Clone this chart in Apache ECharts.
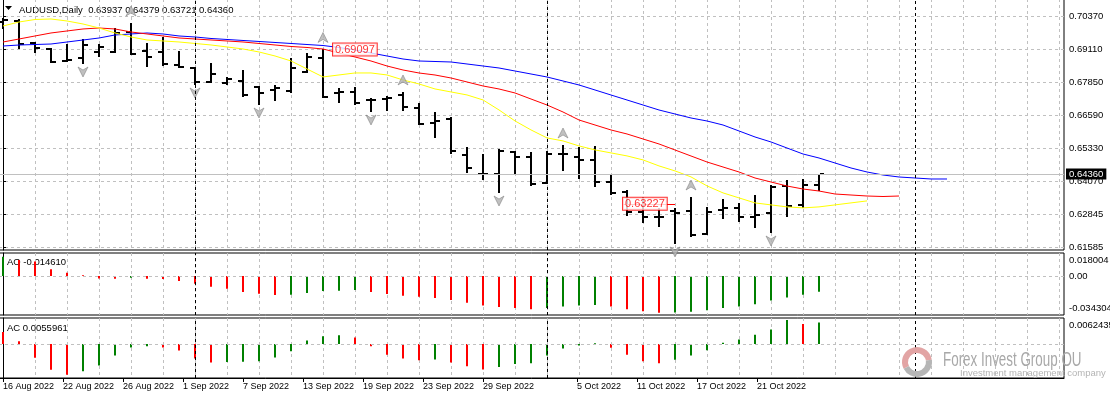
<!DOCTYPE html>
<html lang="en">
<head>
  <meta charset="UTF-8">
  <title>AUDUSD Daily</title>
  <script src="https://cdn.jsdelivr.net/npm/echarts@6/dist/echarts.min.js"></script>
  <style>
    html, body { margin: 0; padding: 0; background: #fff; }
    #chart { width: 1110px; height: 398px; }
  </style>
</head>
<body>
  <div id="chart"></div>
<script>
  const FONT = '"Liberation Sans", Arial, sans-serif'

  // daily bars, 16 Aug 2022 .. 26 Oct 2022 (bar index 0..51)
  const opens = [0.70142, 0.70180, 0.69344, 0.69115, 0.68659, 0.68773, 0.69001, 0.69001, 0.69762, 0.69039,
    0.69001, 0.68507, 0.68393, 0.67861, 0.67823, 0.67899, 0.67671, 0.67557, 0.67519, 0.68241,
    0.68773, 0.67443, 0.67481, 0.67176, 0.67214, 0.67366, 0.66872, 0.66302, 0.66454, 0.65085,
    0.64363, 0.64363, 0.65199, 0.65009, 0.64020, 0.65123, 0.65009, 0.64895, 0.64058, 0.63678,
    0.62918, 0.62728, 0.62956, 0.62956, 0.62082, 0.62994, 0.63070, 0.62728, 0.62880, 0.63906,
    0.63184, 0.63937]
  const highs = [0.70294, 0.70256, 0.69382, 0.69153, 0.69306, 0.69496, 0.69306, 0.69914, 0.70104, 0.69344,
    0.69572, 0.69039, 0.68431, 0.68583, 0.68051, 0.68317, 0.67690, 0.67747, 0.68773, 0.68963,
    0.69097, 0.67633, 0.67671, 0.67252, 0.67328, 0.67481, 0.67062, 0.66720, 0.66530, 0.65389,
    0.65123, 0.65313, 0.65237, 0.65199, 0.65237, 0.65465, 0.65389, 0.65427, 0.64325, 0.63754,
    0.63488, 0.63070, 0.63070, 0.63488, 0.63108, 0.63412, 0.63260, 0.63564, 0.63944, 0.64135,
    0.64173, 0.64379]
  const lows = [0.69876, 0.69115, 0.68963, 0.68583, 0.68621, 0.68545, 0.68811, 0.68963, 0.68887, 0.68431,
    0.68469, 0.68393, 0.67747, 0.67823, 0.67760, 0.67290, 0.66986, 0.67138, 0.67443, 0.68203,
    0.67252, 0.67062, 0.66986, 0.66720, 0.66758, 0.66758, 0.66226, 0.65732, 0.65123, 0.64401,
    0.64135, 0.63640, 0.64325, 0.63906, 0.63982, 0.64477, 0.64173, 0.63868, 0.63564, 0.62766,
    0.62500, 0.62348, 0.61703, 0.61968, 0.62044, 0.62652, 0.62538, 0.62310, 0.62120, 0.62728,
    0.63070, 0.63721]
  const closes = [0.70218, 0.69306, 0.69153, 0.68621, 0.68697, 0.69268, 0.69192, 0.69724, 0.68925, 0.68811,
    0.68545, 0.68431, 0.67861, 0.68165, 0.67975, 0.67366, 0.67443, 0.67633, 0.68393, 0.68811,
    0.67290, 0.67481, 0.67062, 0.67160, 0.67252, 0.66910, 0.66264, 0.66378, 0.65237, 0.64591,
    0.64363, 0.65237, 0.65009, 0.63982, 0.65123, 0.65110, 0.64895, 0.64058, 0.63640, 0.62918,
    0.62728, 0.62710, 0.62880, 0.62044, 0.62918, 0.63070, 0.62728, 0.62804, 0.63868, 0.63146,
    0.63944, 0.64360]

  // alligator lines (shifted forward past the last bar)
  const jaw = [0.69229, 0.69267, 0.69286, 0.69305, 0.69381, 0.69457, 0.69533, 0.69648, 0.69686, 0.69724,
    0.69686, 0.69610, 0.69572, 0.69515, 0.69477, 0.69439, 0.69401, 0.69363, 0.69325, 0.69286,
    0.69248, 0.69172, 0.69077, 0.68963, 0.68849, 0.68735, 0.68659, 0.68640, 0.68621, 0.68545,
    0.68469, 0.68393, 0.68279, 0.68165, 0.68051, 0.67899, 0.67747, 0.67557, 0.67366, 0.67176,
    0.66986, 0.66796, 0.66644, 0.66492, 0.66378, 0.66226, 0.65998, 0.65770, 0.65580, 0.65351,
    0.65123, 0.64971, 0.64781, 0.64591, 0.64439, 0.64325, 0.64249, 0.64211, 0.64173, 0.64173]
  const teeth = [0.69381, 0.69495, 0.69610, 0.69724, 0.69800, 0.69876, 0.69914, 0.69876, 0.69762, 0.69686,
    0.69610, 0.69534, 0.69496, 0.69458, 0.69420, 0.69382, 0.69325, 0.69268, 0.69211, 0.69173,
    0.69115, 0.68963, 0.68811, 0.68659, 0.68469, 0.68317, 0.68203, 0.68127, 0.68013, 0.67861,
    0.67709, 0.67595, 0.67443, 0.67214, 0.66986, 0.66720, 0.66416, 0.66226, 0.66036, 0.65884,
    0.65694, 0.65504, 0.65275, 0.65047, 0.64819, 0.64629, 0.64439, 0.64211, 0.64058, 0.63906,
    0.63792, 0.63716, 0.63602, 0.63564, 0.63526, 0.63507, 0.63526]
  const lips = [0.69990, 0.70142, 0.70237, 0.70256, 0.70180, 0.70066, 0.69914, 0.69724, 0.69572, 0.69458,
    0.69420, 0.69382, 0.69325, 0.69268, 0.69192, 0.69116, 0.69002, 0.68850, 0.68660, 0.68356,
    0.68052, 0.68128, 0.68204, 0.68204, 0.68128, 0.67938, 0.67786, 0.67596, 0.67482, 0.67368,
    0.67178, 0.66798, 0.66380, 0.66038, 0.65734, 0.65620, 0.65430, 0.65278, 0.65164, 0.65050,
    0.64898, 0.64670, 0.64480, 0.64252, 0.63910, 0.63644, 0.63454, 0.63264, 0.63188, 0.63112,
    0.63074, 0.63112, 0.63188, 0.63264, 0.63340]

  const fractalUp = [8, 20, 25, 35, 43]
  const fractalDown = [5, 12, 16, 23, 31, 42, 48]

  // awesome oscillator / accelerator (value before the first bar sets the first colour)
  const aoBefore = 0.0172
  const aoValues = [0.018004, 0.0150, 0.0135, 0.0062, 0.0031, 0.0006, -0.0023, -0.0026, -0.0016, -0.0025,
    -0.0027, -0.0047, -0.0072, -0.0100, -0.0118, -0.0149, -0.0165, -0.0177, -0.0175, -0.0159,
    -0.0140, -0.0138, -0.0131, -0.0149, -0.0168, -0.0185, -0.0195, -0.0205, -0.0225, -0.0250,
    -0.0275, -0.0290, -0.0300, -0.0310, -0.0300, -0.0285, -0.0275, -0.0270, -0.0285, -0.0310,
    -0.0330, -0.034304, -0.0340, -0.0335, -0.0320, -0.0300, -0.0285, -0.0265, -0.0230, -0.0200,
    -0.0175, -0.014610]
  const acBefore = 0.0040
  const acValues = [0.0031, 0.0007, -0.0036, -0.0067, -0.0080, -0.0071, -0.0056, -0.0030, -0.0009, -0.0006,
    -0.0009, -0.0017, -0.0038, -0.0048, -0.0047, -0.0046, -0.0045, -0.0035, -0.0019, 0.0009,
    0.0020, 0.0023, 0.0017, -0.0006, -0.0028, -0.0038, -0.0042, -0.0040, -0.0048, -0.0058,
    -0.0066, -0.0060, -0.0052, -0.0050, -0.0030, -0.0012, -0.0004, 0.0002, -0.0010, -0.0028,
    -0.0045, -0.0050, -0.0041, -0.0030, -0.0016, 0.0003, 0.0012, 0.0024, 0.0038, 0.0062435,
    0.0052, 0.0055961]

  const priceTicks = [0.70370, 0.69110, 0.67850, 0.66590, 0.65330, 0.64070, 0.62845, 0.61585]
  const aoTicks = [0.018004, 0, -0.034304]
  const aoTickText = ['0.018004', '0.00', '-0.034304']
  const acTicks = [0.0062435]
  const acTickText = ['0.0062435']
  const dateLabels = ['16 Aug 2022', '22 Aug 2022', '26 Aug 2022', '1 Sep 2022', '7 Sep 2022', '13 Sep 2022',
    '19 Sep 2022', '23 Sep 2022', '29 Sep 2022', '5 Oct 2022', '11 Oct 2022', '17 Oct 2022', '21 Oct 2022']
  const datePos = [0, 3.75, 7.5, 11.25, 15, 18.75, 22.5, 26.25, 30, 35.875, 39.625, 43.375, 47.125]
  const separators = [12, 34, 57]
  const lastPrice = 0.64360
  const priceTags = [[20.625, 0.69097], [38.75, 0.63227]]
  const tagLineEnd = 42

  // 16 px per bar, bar 0 sits at x = 3
  const X_MIN = -0.25, X_MAX = 66.3125
  const gridX = []
  for (let i = 0; i <= 66; i += 2) gridX.push(i)

  const dash = { color: '#c0c0c0', type: [3, 3], width: 1 }
  const sepLines = separators.map(v => ({ xAxis: v, lineStyle: { color: '#000', type: [3, 3], width: 1 } }))

  function gridAxis(gi) {
    return {
      type: 'value', gridIndex: gi, min: X_MIN, max: X_MAX, position: 'top',
      axisLine: { show: false }, axisLabel: { show: false },
      axisTick: { show: false, customValues: gridX },
      splitLine: { show: true, lineStyle: dash }
    }
  }

  const upColor = '#008000', downColor = '#ff0000'
  const oscData = (vals, before) => vals.map((v, i) => ({
    value: [i, v],
    itemStyle: { color: v > (i ? vals[i - 1] : before) ? upColor : downColor }
  }))

  const upArrow = 'path://M5,0 L10,10 L5,7 L0,10 Z'
  const downArrow = 'path://M0,0 L5,3 L10,0 L5,10 Z'

  let myChart = echarts.init(document.getElementById('chart'))
  let option = {
    animation: false,
    backgroundColor: '#fff',
    textStyle: { fontFamily: FONT },
    grid: [
      { left: -1, right: 46, top: -1, height: 251, show: true, borderColor: '#000', borderWidth: 1, outerBoundsMode: 'none' },
      { left: -1, right: 46, top: 253, height: 62, show: true, borderColor: '#000', borderWidth: 1, outerBoundsMode: 'none' },
      { left: -1, right: 46, top: 318, height: 60, show: true, borderColor: '#000', borderWidth: 1, outerBoundsMode: 'none' }
    ],
    xAxis: [
      gridAxis(0),
      gridAxis(1),
      gridAxis(2),
      {
        type: 'value', gridIndex: 2, min: X_MIN, max: X_MAX, position: 'bottom',
        axisLine: { show: true, lineStyle: { color: '#000', width: 1 } },
        axisTick: { show: true, customValues: datePos, length: 4, lineStyle: { color: '#000' } },
        axisLabel: {
          show: true, customValues: datePos, align: 'left', margin: 4,
          fontSize: 9, color: '#000', fontFamily: FONT,
          formatter: v => dateLabels[datePos.findIndex(p => Math.abs(p - v) < 1e-6)] || ''
        },
        splitLine: { show: false }
      }
    ],
    yAxis: [
      {
        type: 'value', gridIndex: 0, position: 'right', min: 0.61473, max: 0.71016,
        axisLine: { show: true, lineStyle: { color: '#000' } },
        axisTick: { show: true, customValues: priceTicks, length: 3, lineStyle: { color: '#000' } },
        axisLabel: { customValues: priceTicks, formatter: v => v.toFixed(5), margin: 5, fontSize: 9.5, color: '#000', fontFamily: FONT },
        splitLine: { show: true, lineStyle: dash }
      },
      {
        type: 'value', gridIndex: 1, position: 'right', min: -0.03643, max: 0.02148,
        axisLine: { show: true, lineStyle: { color: '#000' } },
        axisTick: { show: false, customValues: aoTicks },
        splitLine: { show: false },
        axisLabel: {
          customValues: aoTicks, margin: 5, fontSize: 9.5, color: '#000', fontFamily: FONT,
          formatter: v => {
            const k = aoTicks.findIndex(t => Math.abs(t - v) < 1e-9)
            if (k === 0) return '{top|' + aoTickText[k] + '}'
            if (k === 2) return '{bot|' + aoTickText[k] + '}'
            return aoTickText[k]
          },
          rich: {
            top: { fontSize: 9.5, color: '#000', fontFamily: FONT, padding: [7, 0, 0, 0] },
            bot: { fontSize: 9.5, color: '#000', fontFamily: FONT, padding: [0, 0, 9, 0] }
          }
        }
      },
      {
        type: 'value', gridIndex: 2, position: 'right', min: -0.00884, max: 0.00676,
        axisLine: { show: true, lineStyle: { color: '#000' } },
        axisTick: { show: false, customValues: acTicks },
        splitLine: { show: false },
        axisLabel: {
          customValues: acTicks, margin: 5, fontSize: 9.5, color: '#000', fontFamily: FONT,
          formatter: v => '{top|' + acTickText[0] + '}',
          rich: { top: { fontSize: 9.5, color: '#000', fontFamily: FONT, padding: [11, 0, 0, 0] } }
        }
      }
    ],
    series: [
      {
        type: 'custom', xAxisIndex: 0, yAxisIndex: 0, z: 2,
        data: opens.map((o, i) => [i, o, highs[i], lows[i], closes[i]]),
        encode: { x: 0, y: [1, 2, 3, 4] },
        renderItem: (params, api) => {
          let x = api.value(0)
          let top = api.coord([x, api.value(2)])
          let bot = api.coord([x, api.value(3)])
          let o = api.coord([x, api.value(1)])
          let c = api.coord([x, api.value(4)])
          let px = Math.round(top[0])
          return {
            type: 'group',
            children: [
              { type: 'rect', shape: { x: px - 1, y: Math.round(top[1]), width: 2, height: Math.max(2, Math.round(bot[1] - top[1])) }, style: { fill: '#000' } },
              { type: 'rect', shape: { x: px - 5, y: Math.round(o[1]) - 1, width: 4, height: 2 }, style: { fill: '#000' } },
              { type: 'rect', shape: { x: px + 1, y: Math.round(c[1]) - 1, width: 4, height: 2 }, style: { fill: '#000' } }
            ]
          }
        }
      },
      {
        type: 'line', xAxisIndex: 0, yAxisIndex: 0, z: 3, symbol: 'none',
        data: jaw.map((v, i) => [i, v]), lineStyle: { color: '#0000ff', width: 1 },
        markLine: {
          silent: true, precision: 5, symbol: ['none', 'none'], label: { show: false },
          data: sepLines.concat([{ yAxis: lastPrice, lineStyle: { color: '#c0c0c0', type: 'solid', width: 1 },
            label: { show: true, position: 'end', distance: 2, formatter: lastPrice.toFixed(5), color: '#fff',
              backgroundColor: '#000', padding: [1, 3, 0, 3], fontSize: 9.5, fontFamily: FONT } }])
        }
      },
      { type: 'line', xAxisIndex: 0, yAxisIndex: 0, z: 3, symbol: 'none', data: teeth.map((v, i) => [i, v]), lineStyle: { color: '#ff0000', width: 1 } },
      { type: 'line', xAxisIndex: 0, yAxisIndex: 0, z: 3, symbol: 'none', data: lips.map((v, i) => [i, v]), lineStyle: { color: '#ffff00', width: 1 } },
      {
        type: 'scatter', xAxisIndex: 0, yAxisIndex: 0, z: 4, symbol: upArrow, symbolSize: [10, 10], symbolOffset: [0, -12],
        data: fractalUp.map(i => [i, highs[i]]),
        itemStyle: { color: '#b0b0b0', borderColor: '#707070', borderWidth: 0.6 }
      },
      {
        type: 'scatter', xAxisIndex: 0, yAxisIndex: 0, z: 4, symbol: downArrow, symbolSize: [10, 10], symbolOffset: [0, 8],
        data: fractalDown.map(i => [i, lows[i]]),
        itemStyle: { color: '#b0b0b0', borderColor: '#707070', borderWidth: 0.6 }
      },
      {
        type: 'scatter', xAxisIndex: 0, yAxisIndex: 0, z: 5, symbolSize: 0,
        data: priceTags,
        label: {
          show: true, position: 'right', distance: 0, formatter: p => p.value[1].toFixed(5),
          color: '#ff0000', fontSize: 11, fontFamily: FONT, backgroundColor: '#fff',
          borderColor: '#ff0000', borderWidth: 1, padding: [1, 2, 0, 2]
        },
        markLine: {
          silent: true, precision: 5, symbol: ['none', 'none'], label: { show: false },
          lineStyle: { color: '#ff0000', type: 'solid', width: 1 },
          data: [[{ coord: [priceTags[1][0], priceTags[1][1]] }, { coord: [tagLineEnd, priceTags[1][1]] }]]
        }
      },
      {
        type: 'bar', xAxisIndex: 1, yAxisIndex: 1, barWidth: 2, data: oscData(aoValues, aoBefore),
        markLine: {
          silent: true, precision: 5, symbol: ['none', 'none'], label: { show: false },
          data: sepLines.concat([{ yAxis: 0, lineStyle: dash }])
        }
      },
      {
        type: 'bar', xAxisIndex: 2, yAxisIndex: 2, barWidth: 2, data: oscData(acValues, acBefore),
        markLine: {
          silent: true, precision: 5, symbol: ['none', 'none'], label: { show: false },
          data: sepLines.concat([{ yAxis: 0, lineStyle: dash }])
        }
      }
    ],
    graphic: [
      { type: 'polygon', shape: { points: [[5, 6], [12, 6], [8.5, 10]] }, style: { fill: '#000' } },
      { type: 'text', x: 19, y: 10, style: { text: 'AUDUSD,Daily  0.63937 0.64379 0.63721 0.64360', fontSize: 9.5, fontFamily: FONT, fill: '#000', verticalAlign: 'middle' } },
      { type: 'text', x: 7, y: 262, style: { text: 'AO -0.014610', fontSize: 9.5, fontFamily: FONT, fill: '#000', verticalAlign: 'middle' } },
      { type: 'text', x: 7, y: 328, style: { text: 'AC 0.0055961', fontSize: 9.5, fontFamily: FONT, fill: '#000', verticalAlign: 'middle' } },
      // watermark
      { type: 'arc', z: 100, shape: { cx: 917, cy: 362, r: 12, startAngle: Math.PI * 0.85, endAngle: Math.PI * 1.95 }, style: { stroke: '#e2a4a4', lineWidth: 6, fill: 'none' } },
      { type: 'arc', z: 100, shape: { cx: 917, cy: 362, r: 12, startAngle: -0.05 * Math.PI, endAngle: 0.85 * Math.PI }, style: { stroke: '#b6b6b6', lineWidth: 6, fill: 'none' } },
      { type: 'text', z: 100, x: 943, y: 360, scaleX: 0.67, style: { text: 'Forex Invest Group OU', fontSize: 20, fontFamily: FONT, fill: '#a8a8a8', verticalAlign: 'middle' } },
      { type: 'text', z: 100, x: 960, y: 373, style: { text: 'Investment management company', fontSize: 9.5, fontFamily: FONT, fill: '#b4b4b4', verticalAlign: 'middle' } }
    ]
  }
  myChart.setOption(option)
</script>
</body>
</html>
